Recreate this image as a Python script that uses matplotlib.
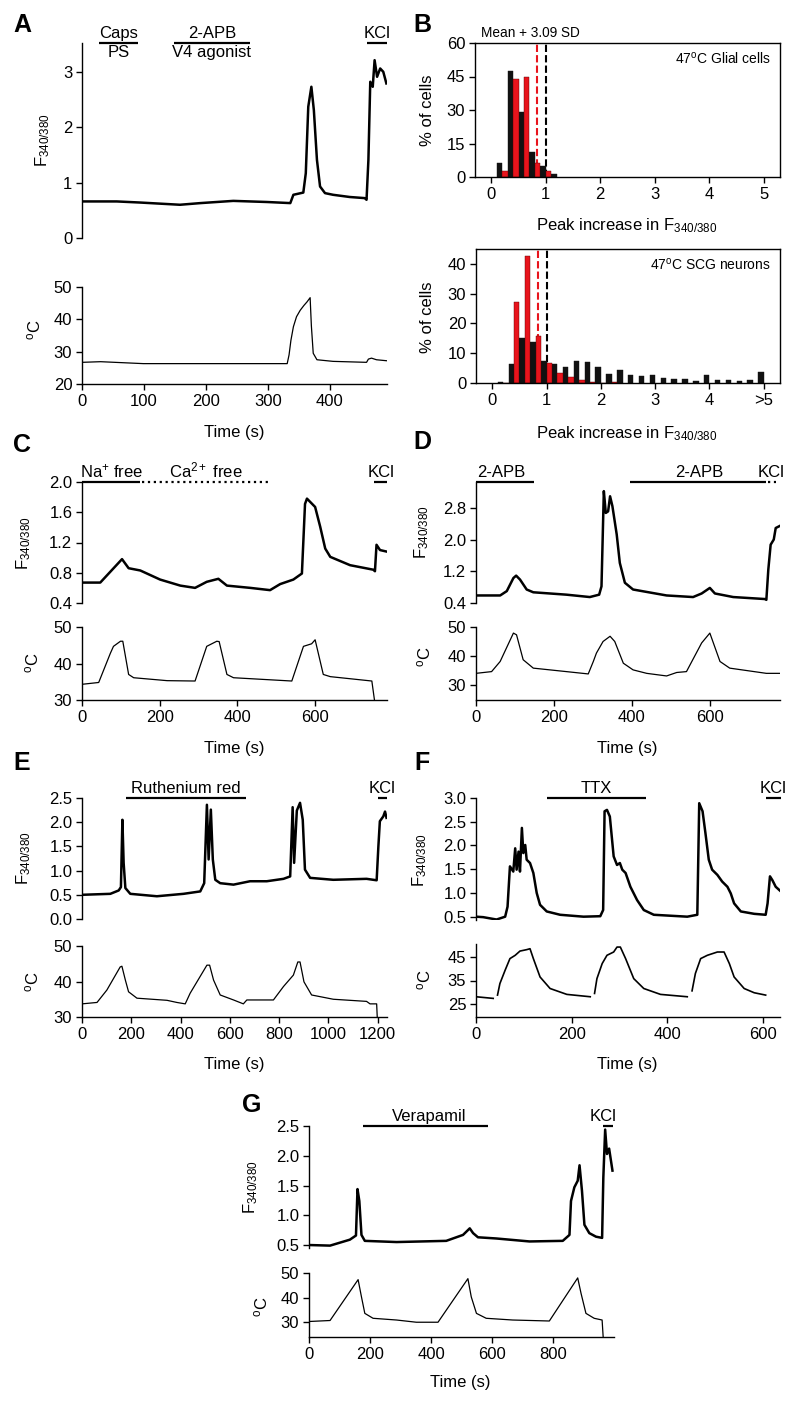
import matplotlib
matplotlib.use('Agg')
import matplotlib.pyplot as plt
import numpy as np
from matplotlib.ticker import FormatStrFormatter

nan = np.nan

# ---- A: caps / 2-APB / KCl ----
a_f_t = [0, 56, 94, 158, 191, 244, 298, 336, 341, 357, 361, 365, 370, 374, 379, 384, 392, 405, 432, 456,
         459, 462, 465, 469, 472, 476, 481, 486, 491]
a_f = [0.66, 0.66, 0.64, 0.60, 0.63, 0.67, 0.65, 0.63, 0.78, 0.82, 1.17, 2.37, 2.73, 2.31, 1.41, 0.93, 0.81,
       0.78, 0.74, 0.72, 0.69, 1.41, 2.82, 2.73, 3.21, 2.91, 3.06, 3.00, 2.79]
a_temp_t = [0, 30, 99, 298, 331, 334, 337, 341, 346, 352, 358, 363, 368, 370, 373, 379, 405, 459, 462, 467,
            475, 491]
a_temp = [26.7, 26.9, 26.3, 26.3, 26.3, 29.0, 33.5, 37.7, 40.8, 42.8, 44.3, 45.4, 46.7, 38.0, 29.5, 27.5, 27.0,
          26.7, 27.7, 28.0, 27.5, 27.2]

# ---- B: histograms ----
glial_black = [6.3, 47.6, 29.0, 11.3, 5.1, 1.3]
glial_red = [2.5, 43.9, 45.0, 6.3, 2.5]
scg_black = [0.2, 6.4, 15.1, 13.9, 7.3, 6.5, 5.4, 7.3, 7.1, 5.3, 2.9, 4.3, 2.6, 2.2, 2.7, 1.8, 1.2, 1.5,
             0.7, 2.7, 0.9, 1.1, 0.7, 0.9, 3.7]
scg_red = [0.0, 27.1, 42.8, 15.9, 6.6, 3.2, 2.0, 1.0, 0.3, 0.0, 0.4]
red_thresh = 0.84
black_thresh = 1.0
b_ticklabels = ['0', '1', '2', '3', '4', '>5']

# ---- C: Na+ free / Ca2+ free ----
c_f_t = [0, 47, 103, 120, 150, 201, 253, 291, 321, 351, 373, 433, 484, 510, 544, 566, 574, 579, 600, 613,
         626, 639, 690, 750, 754, 758, 767, 784]
c_f = [0.67, 0.67, 0.98, 0.86, 0.83, 0.71, 0.63, 0.60, 0.68, 0.72, 0.63, 0.60, 0.57, 0.65, 0.71, 0.79, 1.71,
       1.78, 1.67, 1.41, 1.12, 1.01, 0.90, 0.84, 0.82, 1.17, 1.10, 1.08]
c_temp_t = [0, 43, 73, 81, 99, 105, 120, 133, 219, 291, 321, 347, 353, 373, 390, 540, 570, 591, 600, 621, 639, 746, 754]
c_temp = [34.3, 34.8, 42.8, 44.7, 46.1, 46.1, 37.0, 36.1, 35.3, 35.2, 44.7, 46.1, 46.0, 37.0, 36.1, 35.2, 44.7,
          45.4, 46.5, 37.0, 36.4, 35.2, 29.0]

# ---- D: 2-APB ----
d_f_t = [0, 62, 79, 96, 103, 113, 130, 147, 232, 292, 316, 322, 328, 333, 339, 344, 350, 361, 369, 382,
         403, 489, 557, 579, 600, 613, 660, 741, 745, 750, 756, 764, 769, 779]
d_f = [0.59, 0.59, 0.70, 1.03, 1.09, 0.99, 0.74, 0.67, 0.61, 0.55, 0.61, 0.82, 3.22, 2.67, 2.71, 3.09, 2.84,
       2.13, 1.41, 0.91, 0.74, 0.59, 0.55, 0.64, 0.78, 0.64, 0.55, 0.50, 0.48, 1.24, 1.87, 2.00, 2.29, 2.34]
d_temp_t = [0, 40, 62, 96, 104, 121, 147, 232, 288, 301, 309, 326, 344, 356, 378, 403, 438, 489, 515, 540,
            579, 600, 626, 651, 745, 780]
d_temp = [34.0, 34.6, 38.1, 47.9, 47.3, 38.7, 35.8, 34.6, 33.8, 38.1, 41.0, 45.0, 46.8, 45.0, 37.5, 35.2,
          34.0, 33.1, 34.3, 34.6, 44.5, 47.9, 38.1, 35.8, 34.0, 34.0]

# ---- E: Ruthenium red ----
e_f_t = [0, 115, 149, 158, 164, 169, 176, 196, 304, 412, 480, 496, 507, 514, 523, 531, 541, 561, 615, 682,
         750, 818, 845, 855, 861, 872, 885, 896, 905, 926, 1020, 1155, 1196, 1203, 1209, 1223, 1230, 1236]
e_f = [0.50, 0.52, 0.59, 0.66, 2.05, 1.16, 0.64, 0.52, 0.47, 0.52, 0.57, 0.74, 2.36, 1.23, 2.26, 1.23, 0.81,
       0.74, 0.71, 0.78, 0.78, 0.83, 0.88, 2.31, 1.16, 2.24, 2.40, 2.05, 1.02, 0.85, 0.81, 0.83, 0.80, 1.50,
       2.02, 2.12, 2.22, 2.09]
e_temp_t = [0, 61, 101, 155, 162, 176, 189, 223, 345, 385, 419, 439, 507, 518, 534, 561, 615, 655, 669, 777,
            818, 858, 876, 885, 901, 932, 1020, 1155, 1169, 1196, 1199]
e_temp = [33.7, 34.1, 37.6, 44.1, 44.3, 40.4, 37.1, 35.3, 34.7, 34.1, 33.7, 36.7, 44.6, 44.6, 40.4, 36.2,
          34.8, 33.7, 34.8, 34.8, 38.6, 41.8, 45.5, 45.5, 39.9, 36.2, 35.0, 34.4, 33.7, 33.7, 29.0]

# ---- F: TTX ----
f_f_t = [0, 15, 43, 61, 66, 71, 78, 82, 85, 89, 92, 96, 99, 103, 106, 113, 120, 127, 134, 148, 176, 225,
         260, 266, 269, 274, 280, 288, 295, 301, 306, 313, 323, 337, 351, 372, 442, 463, 467, 474, 480, 487,
         494, 505, 515, 526, 533, 540, 554, 582, 606, 610, 615, 620, 627, 638]
f_f = [0.50, 0.49, 0.44, 0.50, 0.71, 1.56, 1.45, 1.94, 1.49, 1.87, 1.45, 2.37, 1.84, 2.01, 1.70, 1.63, 1.42,
       1.00, 0.75, 0.61, 0.54, 0.50, 0.51, 0.64, 2.72, 2.75, 2.61, 1.77, 1.59, 1.63, 1.49, 1.42, 1.13, 0.85,
       0.64, 0.54, 0.50, 0.54, 2.89, 2.72, 2.26, 1.70, 1.49, 1.38, 1.24, 1.13, 0.99, 0.78, 0.61, 0.56, 0.54,
       0.78, 1.35, 1.27, 1.13, 1.03]
f_temp_t = [0, 36, 40, 45, 50, 61, 71, 82, 92, 106, 113, 120, 134, 155, 190, 239, 244, 248, 253, 264, 274,
            288, 295, 302, 313, 330, 351, 386, 442, 447, 452, 459, 470, 484, 505, 519, 530, 540, 561, 582, 606]
f_temp = [28.1, 27.4, nan, 28.8, 33.7, 39.4, 44.3, 45.7, 47.5, 48.1, 48.5, 44.3, 36.5, 31.6, 29.1, 28.1, nan,
          29.5, 35.8, 42.2, 45.7, 47.1, 49.2, 49.2, 44.3, 35.8, 31.6, 29.1, 28.1, nan, 30.6, 38.0, 44.3, 45.7,
          47.1, 47.1, 42.2, 36.5, 31.6, 29.8, 28.8]

# ---- G: Verapamil ----
g_f_t = [0, 69, 134, 154, 159, 165, 172, 183, 287, 450, 505, 527, 538, 554, 614, 723, 832, 854, 859, 870,
         881, 887, 895, 903, 919, 941, 961, 965, 971, 977, 984, 995]
g_f = [0.50, 0.49, 0.59, 0.66, 1.44, 1.24, 0.67, 0.57, 0.55, 0.57, 0.67, 0.78, 0.70, 0.63, 0.61, 0.56, 0.57,
       0.67, 1.24, 1.47, 1.58, 1.84, 1.41, 0.84, 0.70, 0.64, 0.62, 1.63, 2.44, 2.03, 2.12, 1.75]
g_temp_t = [0, 69, 161, 172, 183, 210, 287, 352, 423, 521, 532, 549, 581, 668, 788, 881, 892, 908, 935, 961, 965]
g_temp = [30.3, 30.7, 47.3, 40.3, 33.6, 31.6, 30.9, 30.0, 30.0, 47.7, 40.3, 33.6, 31.6, 30.9, 30.5, 48.0,
          41.7, 33.6, 31.6, 30.9, 23.0]

plt.rcParams['font.family'] = ['Liberation Sans', 'DejaVu Sans']
plt.rcParams['mathtext.fontset'] = 'custom'
plt.rcParams['mathtext.rm'] = 'Liberation Sans'
plt.rcParams['mathtext.it'] = 'Liberation Sans:italic'
plt.rcParams['mathtext.bf'] = 'Liberation Sans:bold'

W, H = 800, 1405
fig = plt.figure(figsize=(W / 100, H / 100), dpi=100)

F_LABEL = r'F$_{\mathregular{340/380}}$'
C_LABEL = r'$^{\mathregular{o}}$C'
FS = 12


def add_ax(l, t, r, b):
    return fig.add_axes([l / W, 1 - b / H, (r - l) / W, (b - t) / H])


def ticks(ax):
    ax.tick_params(direction='out', length=4, width=1, labelsize=FS, pad=3)
    for s in ax.spines.values():
        s.set_linewidth(1)


def trace_ax(box, xlim, ylim, yticks, fmt=None):
    ax = add_ax(*box)
    for s in ('top', 'right', 'bottom'):
        ax.spines[s].set_visible(False)
    ax.set_xlim(*xlim)
    ax.set_ylim(*ylim)
    ax.set_xticks([])
    ax.set_yticks(yticks)
    if fmt:
        ax.yaxis.set_major_formatter(FormatStrFormatter(fmt))
    ticks(ax)
    return ax


def temp_ax(box, xlim, ylim, yticks, xticks):
    ax = add_ax(*box)
    for s in ('top', 'right'):
        ax.spines[s].set_visible(False)
    ax.set_xlim(*xlim)
    ax.set_ylim(*ylim)
    ax.set_yticks(yticks)
    ax.set_xticks(xticks)
    ticks(ax)
    return ax


def drug(ax, x0, x1, text=None, tx=None, ls='-', below=None):
    tr = ax.get_xaxis_transform()
    ax.plot([x0, x1], [1, 1], transform=tr, color='k', lw=1.6, ls=ls, clip_on=False,
            solid_capstyle='butt')
    if tx is None:
        tx = (x0 + x1) / 2
    if text:
        ax.annotate(text, xy=(tx, 1), xycoords=tr, xytext=(0, 1.5), textcoords='offset points',
                    ha='center', va='bottom', fontsize=FS)
    if below:
        ax.annotate(below, xy=(tx, 1), xycoords=tr, xytext=(0, -1.5), textcoords='offset points',
                    ha='center', va='top', fontsize=FS)


def ylab(x, y, s):
    fig.text(x / W, 1 - y / H, s, rotation=90, ha='center', va='center', fontsize=FS)


def xlab(x, y, s):
    fig.text(x / W, 1 - y / H, s, ha='center', va='center', fontsize=FS)


def letter(x, y, s):
    fig.text(x / W, 1 - y / H, s, ha='center', va='center', fontsize=18, fontweight='bold')


# ---------------- A ----------------
ax = trace_ax((82, 43, 387, 238), (0, 492), (0, 3.52), [0, 1, 2, 3])
ax.plot(a_f_t, a_f, color='k', lw=1.8)
drug(ax, 27, 90, 'Caps', below='PS')
drug(ax, 148, 271, '2-APB', below='V4 agonist')
drug(ax, 460, 492, 'KCl')
ax = temp_ax((82, 287, 387, 384), (0, 492), (20, 50), [20, 30, 40, 50], [0, 100, 200, 300, 400])
ax.plot(a_temp_t, a_temp, color='k', lw=0.9)
ylab(43, 140, F_LABEL)
ylab(34, 330, C_LABEL)
xlab(234, 433, 'Time (s)')
letter(22, 25, 'A')

# ---------------- B ----------------
black_c, red_c = '#111111', '#e8141c'


def hist_ax(box, black, red, ylim, yticks, label, top_text=None):
    ax = add_ax(*box)
    ax.set_xlim(-0.3, 5.3)
    ax.set_ylim(*ylim)
    bl = 0.1 + 0.2 * np.arange(len(black))
    rl = 0.2 + 0.2 * np.arange(len(red))
    ax.plot([red_thresh, red_thresh], [0, ylim[1]], color=red_c, lw=1.5, ls=(0, (3.5, 1.5)), zorder=1)
    ax.plot([black_thresh, black_thresh], [0, ylim[1]], color='k', lw=1.5, ls=(0, (3.5, 1.5)), zorder=1)
    ax.bar(bl, black, width=0.1, align='edge', color=black_c, edgecolor=black_c, lw=0.3, zorder=2)
    ax.bar(rl, red, width=0.1, align='edge', color=red_c, edgecolor='#550000', lw=0.3, zorder=2)
    ax.set_yticks(yticks)
    ax.set_xticks([0, 1, 2, 3, 4, 5])
    ticks(ax)
    ax.text(0.97, 0.88, label, transform=ax.transAxes, ha='right', va='center', fontsize=10)
    if top_text:
        ax.text(0.02, 1.02, top_text, transform=ax.transAxes, ha='left', va='bottom', fontsize=9.8)
    return ax


ax = hist_ax((475, 43, 780, 177), glial_black, glial_red, (0, 60), [0, 15, 30, 45, 60],
             r'47$^{\mathregular{o}}$C Glial cells', 'Mean + 3.09 SD')
ax = hist_ax((476, 249, 780, 383), scg_black, scg_red, (0, 45), [0, 10, 20, 30, 40],
             r'47$^{\mathregular{o}}$C SCG neurons')
ax.set_xticklabels(b_ticklabels)
ylab(428, 110, '% of cells')
ylab(428, 317, '% of cells')
xlab(627, 226, r'Peak increase in F$_{\mathregular{340/380}}$')
xlab(627, 434, r'Peak increase in F$_{\mathregular{340/380}}$')
letter(422, 25, 'B')

# ---------------- C ----------------
ax = trace_ax((82, 482, 387, 603), (0, 785), (0.4, 2.0), [0.4, 0.8, 1.2, 1.6, 2.0], '%.1f')
ax.plot(c_f_t, c_f, color='k', lw=1.8)
drug(ax, 0, 150, r'Na$^{+}$ free')
drug(ax, 155, 480, r'Ca$^{2+}$ free', ls=':')
drug(ax, 752, 785, 'KCl')
ax = temp_ax((82, 627, 387, 700), (0, 785), (30, 50), [30, 40, 50], [0, 200, 400, 600])
ax.plot(c_temp_t, c_temp, color='k', lw=0.9)
ylab(24, 543, F_LABEL)
ylab(32, 663, C_LABEL)
xlab(234, 749, 'Time (s)')
letter(22, 445, 'C')

# ---------------- D ----------------
ax = trace_ax((476, 482, 780, 603), (0, 780), (0.4, 3.45), [0.4, 1.2, 2.0, 2.8], '%.1f')
ax.plot(d_f_t, d_f, color='k', lw=1.8)
drug(ax, 0, 150, '2-APB', tx=66)
drug(ax, 395, 745, '2-APB', tx=574)
drug(ax, 750, 771, 'KCl', tx=756, ls=':')
ax = temp_ax((476, 627, 780, 700), (0, 780), (24.8, 50), [30, 40, 50], [0, 200, 400, 600])
ax.plot(d_temp_t, d_temp, color='k', lw=0.9)
ylab(422, 532, F_LABEL)
ylab(424, 657, C_LABEL)
xlab(627, 749, 'Time (s)')
letter(422, 442, 'D')

# ---------------- E ----------------
ax = trace_ax((82, 798, 387, 919), (0, 1238), (0, 2.5), [0, 0.5, 1.0, 1.5, 2.0, 2.5], '%.1f')
ax.plot(e_f_t, e_f, color='k', lw=1.8)
drug(ax, 180, 666, 'Ruthenium red')
drug(ax, 1203, 1236, 'KCl')
ax = temp_ax((82, 946, 387, 1017), (0, 1238), (30, 50), [30, 40, 50], [0, 200, 400, 600, 800, 1000, 1200])
ax.plot(e_temp_t, e_temp, color='k', lw=0.9)
ylab(24, 858, F_LABEL)
ylab(32, 982, C_LABEL)
xlab(234, 1065, 'Time (s)')
letter(22, 763, 'E')

# ---------------- F ----------------
ax = trace_ax((476, 798, 780, 920), (0, 636), (0.43, 3.0), [0.5, 1.0, 1.5, 2.0, 2.5, 3.0], '%.1f')
ax.plot(f_f_t, f_f, color='k', lw=1.8)
drug(ax, 148, 355, 'TTX')
drug(ax, 606, 638, 'KCl')
ax = temp_ax((476, 944, 780, 1017), (0, 636), (19.5, 50.5), [25, 35, 45], [0, 200, 400, 600])
ax.plot(f_temp_t, f_temp, color='k', lw=1.2)
ylab(420, 860, F_LABEL)
ylab(424, 980, C_LABEL)
xlab(627, 1065, 'Time (s)')
letter(422, 763, 'F')

# ---------------- G ----------------
ax = trace_ax((309, 1126, 614, 1248), (0, 1000), (0.45, 2.5), [0.5, 1.0, 1.5, 2.0, 2.5], '%.1f')
ax.plot(g_f_t, g_f, color='k', lw=1.8)
drug(ax, 178, 587, 'Verapamil', tx=394)
drug(ax, 965, 998, 'KCl', tx=963)
ax = temp_ax((309, 1273, 614, 1337), (0, 1000), (24, 50), [30, 40, 50], [0, 200, 400, 600, 800])
ax.plot(g_temp_t, g_temp, color='k', lw=0.9)
ylab(251, 1187, F_LABEL)
ylab(261, 1307, C_LABEL)
xlab(460, 1383, 'Time (s)')
letter(252, 1105, 'G')

fig.savefig('out.png', dpi=100)
